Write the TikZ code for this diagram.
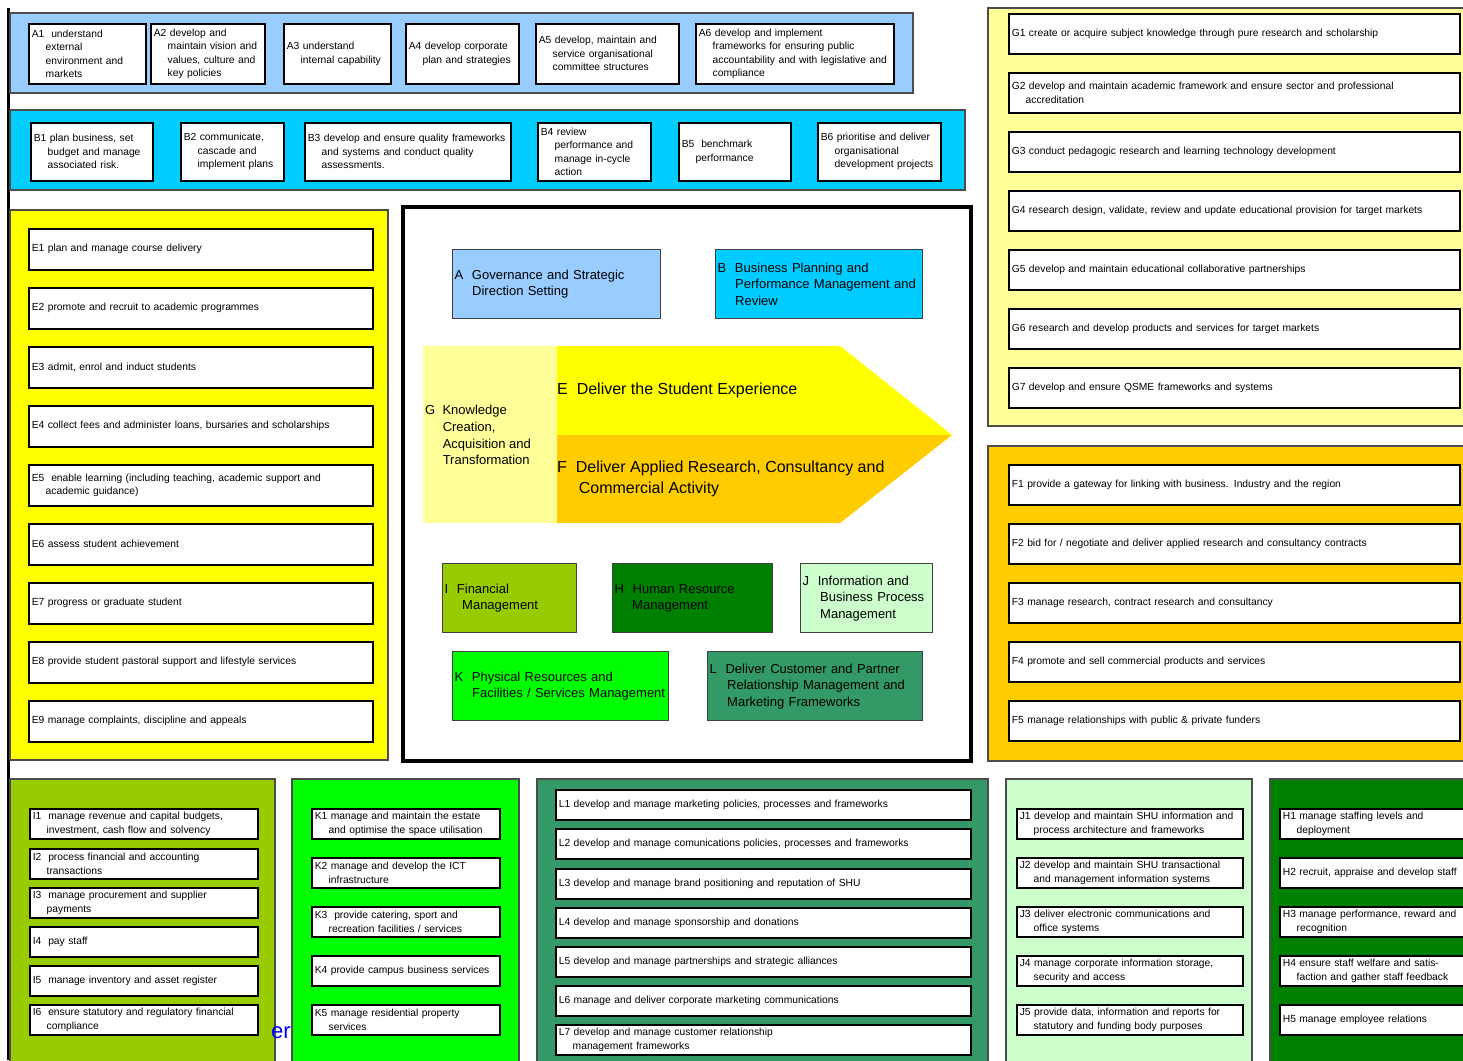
\documentclass[tikz,border=0pt]{standalone}
\usepackage{fontspec}
\setmainfont{Liberation Sans}

\definecolor{govblue}{HTML}{99CCFF}
\definecolor{planblue}{HTML}{00CCFF}
\definecolor{stuyellow}{HTML}{FFFF00}
\definecolor{knowyellow}{HTML}{FFFF99}
\definecolor{resorange}{HTML}{FFCC00}
\definecolor{finlime}{HTML}{99CC00}
\definecolor{hrgreen}{HTML}{008000}
\definecolor{infomint}{HTML}{CCFFCC}
\definecolor{physgreen}{HTML}{00FF00}
\definecolor{mktgreen}{HTML}{339966}

% continuation line with hanging indent
\newcommand{\nxt}{\\\hspace*{1.35em}}

\begin{document}
\begin{tikzpicture}[x=1pt, y=-1pt,
  panel/.style={draw=black!70, line width=1.5pt},
  item/.style={draw=black, line width=1.6pt, fill=white, anchor=north west,
    align=left, inner xsep=3pt, inner ysep=0pt,
    font=\fontsize{10.3}{13.5}\selectfont},
  head/.style={draw=black!75, line width=1.3pt, anchor=north west,
    align=left, inner xsep=2pt, inner ysep=0pt,
    font=\fontsize{13}{16.5}\selectfont},
  big/.style={anchor=west, align=left, inner sep=0pt,
    font=\fontsize{16}{21}\selectfont}]
  \useasboundingbox (0,0) rectangle (1463,1060);
  \clip (0,0) rectangle (1463,1060);
  \fill[white] (0,0) rectangle (1463,1060);
  \draw[line width=3pt] (8,8) -- (8,1060);

  % A: governance row
  \draw[panel, fill=govblue] (10,13) rectangle (913,93);
  \node[item, text width=111pt, minimum height=60pt] (a1) at (28,23) {A1~~understand\nxt external\nxt environment and\nxt markets};
  \node[item, text width=108pt, minimum height=60pt] (a2) at (150,23) {A2 develop and\nxt maintain vision and\nxt values, culture and\nxt key policies};
  \node[item, text width=101pt, minimum height=60pt] (a3) at (283,23) {A3 understand\nxt internal capability};
  \node[item, text width=107pt, minimum height=60pt] (a4) at (405,23) {A4 develop corporate\nxt plan and strategies};
  \node[item, text width=137pt, minimum height=60pt] (a5) at (535,23) {A5 develop, maintain and\nxt service organisational\nxt committee structures};
  \node[item, text width=192pt, minimum height=60pt] (a6) at (695,23) {A6 develop and implement\nxt frameworks for ensuring public\nxt accountability and with legislative and\nxt compliance};

  % B: business planning row
  \draw[panel, fill=planblue] (10,110) rectangle (965,190);
  \node[item, text width=116pt, minimum height=58pt] (b1) at (30,122) {B1 plan business, set\nxt budget and manage\nxt associated risk.};
  \node[item, text width=97pt, minimum height=58pt] (b2) at (180,122) {B2 communicate,\nxt cascade and\nxt implement plans};
  \node[item, text width=200pt, minimum height=58pt] (b3) at (304,122) {B3 develop and ensure quality frameworks\nxt and systems and conduct quality\nxt assessments.};
  \node[item, text width=107pt, minimum height=58pt] (b4) at (537,122) {B4 review\nxt performance and\nxt manage in-cycle\nxt action};
  \node[item, text width=106pt, minimum height=58pt] (b5) at (678,122) {B5~~benchmark\nxt performance};
  \node[item, text width=117pt, minimum height=58pt] (b6) at (817,122) {B6 prioritise and deliver\nxt organisational\nxt development projects};

  % E: student experience column
  \draw[panel, fill=stuyellow] (10,210) rectangle (388,760);
  \node[item, text width=338pt, minimum height=41pt] (e1) at (28,228) {E1 plan and manage course delivery};
  \node[item, text width=338pt, minimum height=41pt] (e2) at (28,287) {E2 promote and recruit to academic programmes};
  \node[item, text width=338pt, minimum height=41pt] (e3) at (28,346) {E3 admit, enrol and induct students};
  \node[item, text width=338pt, minimum height=41pt] (e4) at (28,405) {E4 collect fees and administer loans, bursaries and scholarships};
  \node[item, text width=338pt, minimum height=41pt] (e5) at (28,464) {E5~~enable learning (including teaching, academic support and\nxt academic guidance)};
  \node[item, text width=338pt, minimum height=41pt] (e6) at (28,523) {E6 assess student achievement};
  \node[item, text width=338pt, minimum height=41pt] (e7) at (28,582) {E7 progress or graduate student};
  \node[item, text width=338pt, minimum height=41pt] (e8) at (28,641) {E8 provide student pastoral support and lifestyle services};
  \node[item, text width=338pt, minimum height=41pt] (e9) at (28,700) {E9 manage complaints, discipline and appeals};

  % centre: overview of the process areas
  \draw[line width=4pt, fill=white] (403,207) rectangle (971,761);
  \node[head, fill=govblue, text width=204pt, minimum height=69pt] (ahead) at (452,249) {A~~Governance and Strategic\nxt Direction Setting};
  \node[head, fill=planblue, text width=203pt, minimum height=69pt] (bhead) at (715,249) {B~~Business Planning and\nxt Performance Management and\nxt Review};
  \fill[knowyellow] (423,346) rectangle (557,523);
  \fill[stuyellow] (557,346) -- (840,346) -- (952,435) -- (557,435) -- cycle;
  \fill[resorange] (557,435) -- (952,435) -- (840,523) -- (557,523) -- cycle;
  \node[anchor=west, align=left, inner sep=0pt, font=\fontsize{13}{16.8}\selectfont] (ghead) at (425,435) {G~~Knowledge\nxt Creation,\nxt Acquisition and\nxt Transformation};
  \node[big] (ehead) at (557,390) {E~~Deliver the Student Experience};
  \node[big] (fhead) at (557,479) {F~~Deliver Applied Research, Consultancy and\nxt Commercial Activity};
  \node[head, fill=finlime, text width=130pt, minimum height=69pt] (ihead) at (442,563) {I~~Financial\nxt Management};
  \node[head, fill=hrgreen, text width=156pt, minimum height=69pt] (hhead) at (612,563) {H~~Human Resource\nxt Management};
  \node[head, fill=infomint, text width=128pt, minimum height=69pt] (jhead) at (800,563) {J~~Information and\nxt Business Process\nxt Management};
  \node[head, fill=physgreen, text width=212pt, minimum height=69pt] (khead) at (452,651) {K~~Physical Resources and\nxt Facilities / Services Management};
  \node[head, fill=mktgreen, text width=211pt, minimum height=69pt] (lhead) at (707,651) {L~~Deliver Customer and Partner\nxt Relationship Management and\nxt Marketing Frameworks};

  % G: knowledge column
  \draw[panel, fill=knowyellow] (988,8) rectangle (1475,426);
  \node[item, text width=445pt, minimum height=40pt] (g1) at (1008,13) {G1 create or acquire subject knowledge through pure research and scholarship};
  \node[item, text width=445pt, minimum height=40pt] (g2) at (1008,72) {G2 develop and maintain academic framework and ensure sector and professional\nxt accreditation};
  \node[item, text width=445pt, minimum height=40pt] (g3) at (1008,131) {G3 conduct pedagogic research and learning technology development};
  \node[item, text width=445pt, minimum height=40pt] (g4) at (1008,190) {G4 research design, validate, review and update educational provision for target markets};
  \node[item, text width=445pt, minimum height=40pt] (g5) at (1008,249) {G5 develop and maintain educational collaborative partnerships};
  \node[item, text width=445pt, minimum height=40pt] (g6) at (1008,308) {G6 research and develop products and services for target markets};
  \node[item, text width=445pt, minimum height=40pt] (g7) at (1008,367) {G7 develop and ensure QSME frameworks and systems};

  % F: applied research column
  \draw[panel, fill=resorange] (988,446) rectangle (1475,761);
  \node[item, text width=445pt, minimum height=40pt] (f1) at (1008,464) {F1 provide a gateway for linking with business. Industry and the region};
  \node[item, text width=445pt, minimum height=40pt] (f2) at (1008,523) {F2 bid for / negotiate and deliver applied research and consultancy contracts};
  \node[item, text width=445pt, minimum height=40pt] (f3) at (1008,582) {F3 manage research, contract research and consultancy};
  \node[item, text width=445pt, minimum height=40pt] (f4) at (1008,641) {F4 promote and sell commercial products and services};
  \node[item, text width=445pt, minimum height=40pt] (f5) at (1008,700) {F5 manage relationships with public \& private funders};

  % I: finance column
  \draw[panel, fill=finlime] (10,779) rectangle (275,1075);
  \node[item, text width=222pt, minimum height=30pt] (i1) at (29,808) {I1~~manage revenue and capital budgets,\nxt investment, cash flow and solvency};
  \node[item, text width=222pt, minimum height=30pt] (i2) at (29,848) {I2~~process financial and accounting\nxt transactions};
  \node[item, text width=222pt, minimum height=30pt] (i3) at (29,887) {I3~~manage procurement and supplier\nxt payments};
  \node[item, text width=222pt, minimum height=30pt] (i4) at (29,926) {I4~~pay staff};
  \node[item, text width=222pt, minimum height=30pt] (i5) at (29,965) {I5~~manage inventory and asset register};
  \node[item, text width=222pt, minimum height=30pt] (i6) at (29,1004) {I6~~ensure statutory and regulatory financial\nxt compliance};
  \node[anchor=west, inner sep=0pt, text=blue, font=\fontsize{22}{24}\selectfont] (hidden) at (271,1035) {ery};

  % K: physical resources column
  \draw[panel, fill=physgreen] (292,779) rectangle (519,1075);
  \node[item, text width=182pt, minimum height=30pt] (k1) at (311,808) {K1 manage and maintain the estate\nxt and optimise the space utilisation};
  \node[item, text width=182pt, minimum height=30pt] (k2) at (311,857) {K2 manage and develop the ICT\nxt infrastructure};
  \node[item, text width=182pt, minimum height=30pt] (k3) at (311,906) {K3~~provide catering, sport and\nxt recreation facilities / services};
  \node[item, text width=182pt, minimum height=30pt] (k4) at (311,955) {K4 provide campus business services};
  \node[item, text width=182pt, minimum height=30pt] (k5) at (311,1004) {K5 manage residential property\nxt services};

  % L: marketing column
  \draw[panel, fill=mktgreen] (537,779) rectangle (988,1075);
  \node[item, text width=409pt, minimum height=30pt] (l1) at (555,789) {L1 develop and manage marketing policies, processes and frameworks};
  \node[item, text width=409pt, minimum height=30pt] (l2) at (555,828) {L2 develop and manage comunications policies, processes and frameworks};
  \node[item, text width=409pt, minimum height=30pt] (l3) at (555,868) {L3 develop and manage brand positioning and reputation of SHU};
  \node[item, text width=409pt, minimum height=30pt] (l4) at (555,907) {L4 develop and manage sponsorship and donations};
  \node[item, text width=409pt, minimum height=30pt] (l5) at (555,946) {L5 develop and manage partnerships and strategic alliances};
  \node[item, text width=409pt, minimum height=30pt] (l6) at (555,985) {L6 manage and deliver corporate marketing communications};
  \node[item, text width=409pt, minimum height=30pt] (l7) at (555,1024) {L7 develop and manage customer relationship\nxt management frameworks};

  % J: information column
  \draw[panel, fill=infomint] (1006,779) rectangle (1252,1075);
  \node[item, text width=220pt, minimum height=30pt] (j1) at (1016,808) {J1 develop and maintain SHU information and\nxt process architecture and frameworks};
  \node[item, text width=220pt, minimum height=30pt] (j2) at (1016,857) {J2 develop and maintain SHU transactional\nxt and management information systems};
  \node[item, text width=220pt, minimum height=30pt] (j3) at (1016,906) {J3 deliver electronic communications and\nxt office systems};
  \node[item, text width=220pt, minimum height=30pt] (j4) at (1016,955) {J4 manage corporate information storage,\nxt security and access};
  \node[item, text width=220pt, minimum height=30pt] (j5) at (1016,1004) {J5 provide data, information and reports for\nxt statutory and funding body purposes};

  % H: human resources column
  \draw[panel, fill=hrgreen] (1270,779) rectangle (1475,1075);
  \node[item, text width=194pt, minimum height=30pt] (h1) at (1279,808) {H1 manage staffing levels and\nxt deployment};
  \node[item, text width=194pt, minimum height=30pt] (h2) at (1279,857) {H2 recruit, appraise and develop staff};
  \node[item, text width=194pt, minimum height=30pt] (h3) at (1279,906) {H3 manage performance, reward and\nxt recognition};
  \node[item, text width=194pt, minimum height=30pt] (h4) at (1279,955) {H4 ensure staff welfare and satis-\nxt faction and gather staff feedback};
  \node[item, text width=194pt, minimum height=30pt] (h5) at (1279,1004) {H5 manage employee relations};
\end{tikzpicture}
\end{document}
